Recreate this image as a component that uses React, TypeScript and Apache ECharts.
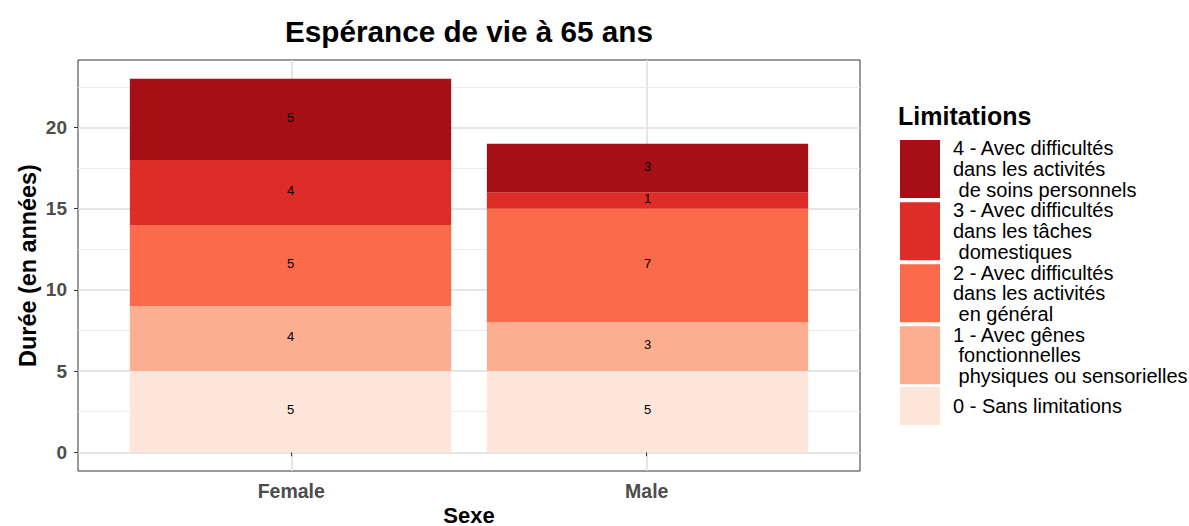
import React, { useEffect, useRef } from "react";
import * as echarts from "echarts";

const sexes = ["Female", "Male"];
const seriesNames = [
  "0 - Sans limitations",
  "1 - Avec gênes\n fonctionnelles\n physiques ou sensorielles",
  "2 - Avec difficultés\ndans les activités\n en général",
  "3 - Avec difficultés\ndans les tâches\n domestiques",
  "4 - Avec difficultés\ndans les activités\n de soins personnels",
];
const femaleValues = [5, 4, 5, 4, 5];
const maleValues = [5, 3, 7, 1, 3];
const colors = ["#FEE5D9", "#FCAE91", "#FB6A4A", "#DE2D26", "#A50F15"];
const yTicks = [0, 5, 10, 15, 20];
const yMinor = [2.5, 7.5, 12.5, 17.5, 22.5];
const xTicks = [1, 2];

const FONT = "'Liberation Sans', Arial, Helvetica, sans-serif";
const Y_MIN = -1.15;
const Y_MAX = 24.15;

export default function App() {
  const ref = useRef<HTMLDivElement>(null);
  useEffect(() => {
    if (!ref.current) return;
    const chart = echarts.init(ref.current, null, { renderer: "svg" });
    const barSeries = seriesNames.map((name, i) => ({
      name,
      type: "bar",
      stack: "total",
      xAxisIndex: 0,
      yAxisIndex: 0,
      barWidth: "90%",
      z: 3,
      itemStyle: { color: colors[i] },
      label: {
        show: true,
        position: "inside",
        offset: [0, -2],
        color: "#000",
        fontSize: 13,
        fontFamily: FONT,
      },
      data: [femaleValues[i], maleValues[i]],
    }));
    const legendText = {
      fontSize: 20,
      lineHeight: 20.7,
      color: "#000",
      fontFamily: FONT,
      padding: [0, 0, 0, 8],
    };
    const option: any = {
      animation: false,
      textStyle: { fontFamily: FONT },
      title: [
        {
          text: "Espérance de vie à 65 ans",
          left: 464,
          textAlign: "center",
          top: 11,
          textStyle: { fontSize: 29.7, fontWeight: "bold", color: "#000", fontFamily: FONT },
        },
        {
          text: "Limitations",
          left: 893,
          top: 98,
          textStyle: { fontSize: 25, fontWeight: "bold", color: "#000", fontFamily: FONT },
        },
      ],
      legend: [
        {
          data: [seriesNames[4], seriesNames[3], seriesNames[2], seriesNames[1]],
          orient: "vertical",
          left: 900,
          top: 138,
          padding: 0,
          icon: "rect",
          itemWidth: 40,
          itemHeight: 58,
          itemGap: 0,
          selectedMode: false,
          textStyle: legendText,
        },
        {
          data: [seriesNames[0]],
          orient: "vertical",
          left: 900,
          top: 387,
          padding: 0,
          icon: "rect",
          itemWidth: 40,
          itemHeight: 38,
          selectedMode: false,
          textStyle: legendText,
        },
      ],
      grid: [
        {
          left: 112,
          top: 60,
          width: 714,
          height: 411,
          show: false,
          outerBoundsMode: "none",
          containLabel: false,
        },
        {
          left: 78,
          top: 60,
          width: 782,
          height: 411,
          show: true,
          borderColor: "#333",
          borderWidth: 1,
          outerBoundsMode: "none",
          containLabel: false,
        },
      ],
      xAxis: [
        {
          type: "category",
          gridIndex: 0,
          data: sexes,
          show: false,
        },
        {
          type: "value",
          gridIndex: 1,
          min: 0.4,
          max: 2.6,
          name: "Sexe",
          nameLocation: "middle",
          nameGap: 33,
          nameMoveOverlap: false,
          nameTextStyle: { fontSize: 22, fontWeight: "bold", color: "#000", fontFamily: FONT },
          axisLine: { show: false },
          axisTick: { show: true, customValues: xTicks, length: 4, lineStyle: { color: "#333", width: 1 } },
          axisLabel: {
            customValues: xTicks,
            formatter: (v: number) => sexes[Math.round(v) - 1] ?? "",
            fontSize: 19.5,
            fontWeight: "bold",
            color: "#4d4d4d",
            margin: 10,
            fontFamily: FONT,
          },
          splitLine: { show: true, lineStyle: { color: "#dedede", width: 1.5 } },
        },
      ],
      yAxis: [
        {
          type: "value",
          gridIndex: 0,
          min: Y_MIN,
          max: Y_MAX,
          show: false,
          splitLine: { show: false },
        },
        {
          type: "value",
          gridIndex: 1,
          min: Y_MIN,
          max: Y_MAX,
          name: "Durée (en années)",
          nameLocation: "middle",
          nameGap: 39,
          nameMoveOverlap: false,
          nameTextStyle: { fontSize: 23.4, fontWeight: "bold", color: "#000", fontFamily: FONT },
          axisLine: { show: false },
          axisTick: { show: true, customValues: yTicks, length: 4, lineStyle: { color: "#333", width: 1 } },
          axisLabel: {
            customValues: yTicks,
            fontSize: 19,
            fontWeight: "bold",
            color: "#4d4d4d",
            margin: 11,
            fontFamily: FONT,
          },
          splitLine: { show: true, lineStyle: { color: "#dedede", width: 1.5 } },
        },
      ],
      series: [
        {
          name: "gridMinor",
          type: "line",
          xAxisIndex: 1,
          yAxisIndex: 1,
          data: [],
          z: 1,
          silent: true,
          markLine: {
            silent: true,
            symbol: ["none", "none"],
            z: 1,
            label: { show: false },
            lineStyle: { color: "#ebebeb", width: 1, type: "solid" },
            data: yMinor.map((v) => ({ yAxis: v })),
          },
        },
        ...barSeries,
      ],
    };
    chart.setOption(option);
    return () => chart.dispose();
  }, []);
  return (
    <div
      ref={ref}
      style={{ position: "fixed", left: 0, top: 0, width: 1189, height: 526, background: "#fff" }}
    />
  );
}
